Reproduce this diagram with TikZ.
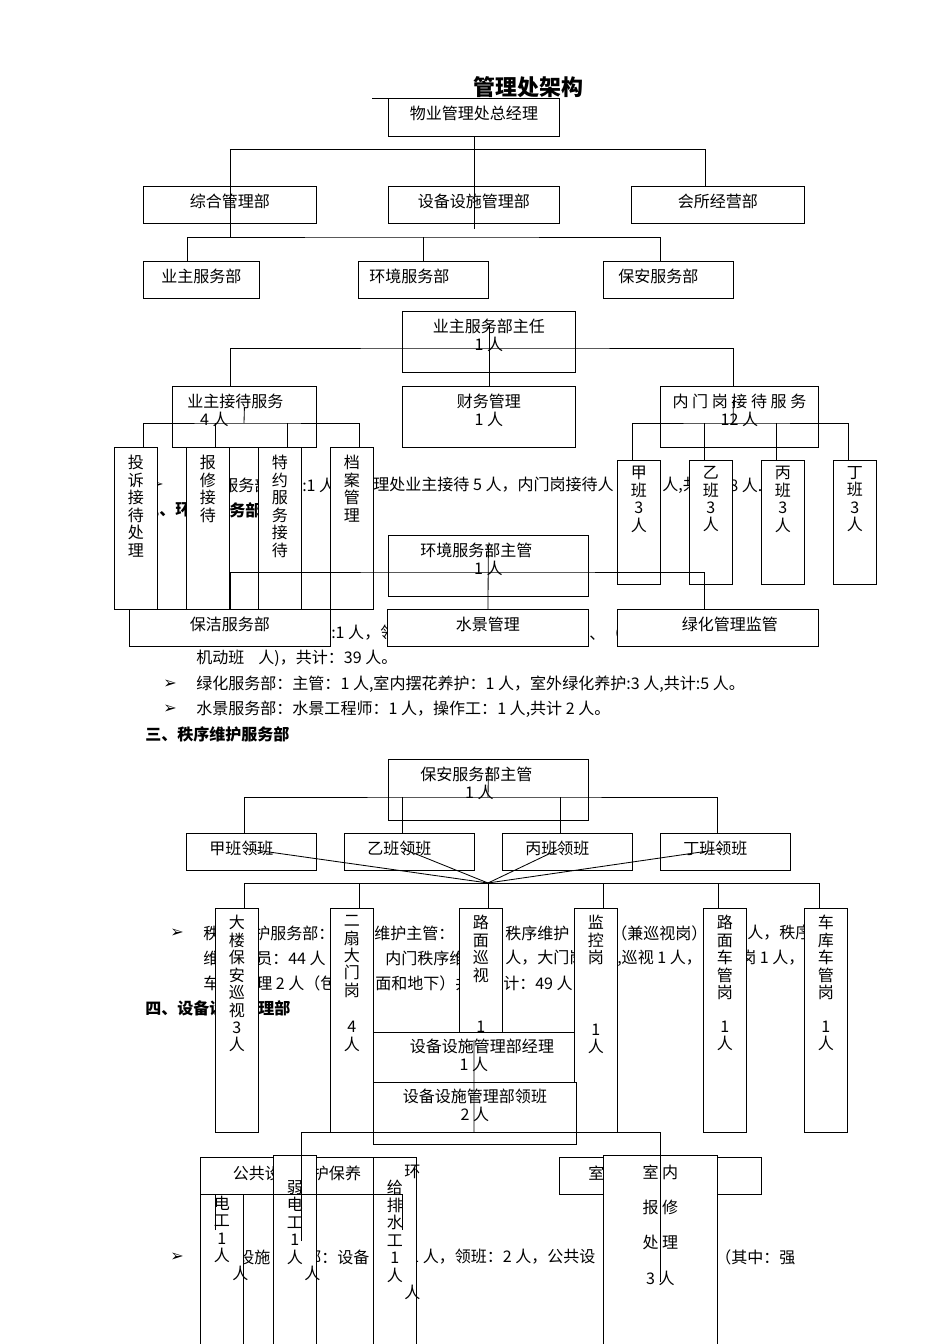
\documentclass[tikz,border=0pt]{standalone}
\usepackage{fontspec}
\setmainfont{Noto Sans CJK SC}
\newfontfamily\arrowfont{DejaVu Sans}
\usetikzlibrary{positioning,calc}
\newdimen\pxu \pxu=0.25mm
\newcommand{\bodyfont}{\fontsize{11.4pt}{12.4pt}\selectfont}
\newcommand{\boxtext}[4][8]{\parbox[t][#3\pxu][t]{#2\pxu}{\centering\vspace*{#1\pxu}#4}}
\tikzset{
    box/.style={
        draw,
        fill=white,
        line width=0.6pt,
        inner sep=0pt,
        anchor=north west,
        font=\bodyfont
    },
    frag/.style={
        anchor=west,
        inner sep=0pt,
        font=\bodyfont
    },
    head/.style={
        frag,
        font=\bodyfont\bfseries
    },
    link/.style={
        line width=0.6pt
    }
}

\begin{document}
\begin{tikzpicture}[x=0.25mm, y=-0.25mm]
    \path[use as bounding box, fill=white] (0,0) rectangle (950,1344);

    \node[inner sep=0pt, anchor=west, font=\fontsize{15.6pt}{16pt}\selectfont\bfseries] (title) at (473,87) {管理处架构};
    \draw[link] (title.base west) ++(0,3) -- ++(-101,0);

    % body text behind the charts
    \node[frag] (fa0) at (150,485) {\arrowfont ➢};
    \node[frag] (fa1) at (222,485) {服务部};
    \node[frag] (fa2) at (302,485) {:1 人};
    \node[frag] (fa3) at (373,485) {理处业主接待 5 人，内门岗接待人};
    \node[frag] (fa4) at (662,485) {人,共};
    \node[frag] (fa5) at (729,485) {8 人.};
    \node[head] (fb1) at (143,510) {二、环};
    \node[head] (fb2) at (229,510) {务部};
    \node[frag] (fc1) at (331,633) {:1 人，领};
    \node[frag] (fc2) at (589,633) {、（其};
    \node[frag] (fd) at (196,658) {机动班\hspace{14\pxu}人)，共计：39 人。};
    \node[frag] (fe0) at (163,684) {\arrowfont ➢};
    \node[frag] (fe) at (196,684) {绿化服务部：主管：1 人,室内摆花养护：1 人，室外绿化养护:3 人,共计:5 人。};
    \node[frag] (ff0) at (163,709) {\arrowfont ➢};
    \node[frag] (ff) at (196,709) {水景服务部：水景工程师：1 人，操作工：1 人,共计 2 人。};
    \node[head] (fg) at (145,734) {三、秩序维护服务部};
    \node[frag] (fh0) at (170,933) {\arrowfont ➢};
    \node[frag] (fh1) at (203,933) {秩};
    \node[frag] (fh2) at (254,933) {护服务部：};
    \node[frag] (fh3) at (374,933) {维护主管：};
    \node[frag] (fh4) at (505,933) {秩序维护};
    \node[frag] (fh5) at (611,933) {（兼巡视岗）};
    \node[frag] (fh6) at (747,933) {人，秩序};
    \node[frag] (fi1) at (203,958) {维};
    \node[frag] (fi2) at (256,958) {员：44 人（};
    \node[frag] (fi3) at (385,958) {内门秩序维};
    \node[frag] (fi4) at (505,958) {人，大门岗};
    \node[frag] (fi5) at (617,958) {,巡视 1 人，};
    \node[frag] (fi6) at (740,958) {岗 1 人，};
    \node[frag] (fj1) at (203,983) {车};
    \node[frag] (fj2) at (256,983) {理 2 人（包};
    \node[frag] (fj3) at (375,983) {面和地下）共};
    \node[frag] (fj4) at (503,983) {计：49 人};
    \node[head] (fk1) at (145,1008) {四、设备设};
    \node[head] (fk2) at (258,1008) {理部};
    \node[frag] (fl0) at (170,1257) {\arrowfont ➢};
    \node[frag] (fl1) at (238,1257) {设施};
    \node[frag] (fl2) at (305,1257) {部：设备};
    \node[frag] (fl3) at (410,1257) {1 人，领班：2 人，公共设};
    \node[frag] (fl4) at (715,1257) {（其中：强};

    % overall structure
    \node[box] (gm) at (388,98) {\boxtext{171}{38}{物业管理处总经理}};
    \node[box] (zh) at (143,186) {\boxtext{173}{37}{综合管理部}};
    \node[box] (sb) at (388,186) {\boxtext{171}{37}{设备设施管理部}};
    \node[box] (hs) at (631,186) {\boxtext{173}{37}{会所经营部}};
    \node[box] (yz) at (143,261) {\boxtext{116}{37}{业主服务部}};
    \node[box] (hj) at (358,261) {\boxtext{130}{37}{环境服务部\hspace*{28\pxu}}};
    \node[box] (ba) at (603,261) {\boxtext{130}{37}{保安服务部\hspace*{20\pxu}}};

    % owner service
    \node[box] (zr) at (402,311) {\boxtext{173}{61}{业主服务部主任\\1 人}};
    \node[box] (cw) at (402,386) {\boxtext{173}{61}{财务管理\\1 人}};
    \node[box] (jd) at (172,386) {\boxtext{144}{61}{\hspace*{-18\pxu}业主接待服务\\\hspace*{-60\pxu}4 人}};
    \node[box] (nm) at (660,386) {\boxtext{158}{61}{内 门 岗 接 待 服 务\\12 人}};
    \node[box] (ts) at (114,447) {\boxtext{43}{162}{投\\诉\\接\\待\\处\\理}};
    \node[box] (bx) at (186,447) {\boxtext{43}{162}{报\\修\\接\\待}};
    \node[box] (ty) at (258,447) {\boxtext{43}{162}{特\\约\\服\\务\\接\\待}};
    \node[box] (da) at (330,447) {\boxtext{43}{162}{档\\案\\管\\理}};
    \node[box] (ja) at (617,460) {\boxtext[6]{43}{124}{甲\\班\\3\\人}};
    \node[box] (yi) at (689,460) {\boxtext[6]{43}{124}{乙\\班\\3\\人}};
    \node[box] (bi) at (761,460) {\boxtext[6]{43}{124}{丙\\班\\3\\人}};
    \node[box] (di) at (833,460) {\boxtext[6]{43}{124}{丁\\班\\3\\人}};

    % environment
    \node[box] (hz) at (388,535) {\boxtext{200}{61}{\hspace*{-24\pxu}环境服务部主管\\1 人}};
    \node[box] (bj) at (129,609) {\boxtext{201}{37}{保洁服务部}};
    \node[box] (sj) at (387,609) {\boxtext{201}{37}{水景管理}};
    \node[box] (lh) at (617,609) {\boxtext{201}{37}{\hspace*{24\pxu}绿化管理监管}};

    % security
    \node[box] (bz) at (388,759) {\boxtext{200}{61}{\hspace*{-24\pxu}保安服务部主管\\\hspace*{-18\pxu}1 人}};
    \node[box] (ljA) at (186,833) {\boxtext{130}{37}{\hspace*{-20\pxu}甲班领班}};
    \node[box] (ljB) at (344,833) {\boxtext{130}{37}{\hspace*{-20\pxu}乙班领班}};
    \node[box] (ljC) at (502,833) {\boxtext{130}{37}{\hspace*{-20\pxu}丙班领班}};
    \node[box] (ljD) at (660,833) {\boxtext{130}{37}{\hspace*{-20\pxu}丁班领班}};
    \node[box] (dl) at (215,908) {\boxtext[7]{43}{224}{大\\楼\\保\\安\\巡\\视\\3\\人}};
    \node[box] (em) at (330,908) {\boxtext[7]{43}{224}{二\\扇\\大\\门\\岗\\[19\pxu]4\\人}};
    \node[box] (lm) at (459,908) {\boxtext[7]{43}{224}{路\\面\\巡\\视\\[34\pxu]1}};
    \node[box] (jk) at (574,908) {\boxtext[7]{43}{224}{监\\控\\岗\\[54\pxu]1\\人}};
    \node[box] (lc) at (703,908) {\boxtext[7]{43}{224}{路\\面\\车\\管\\岗\\[16\pxu]1\\人}};
    \node[box] (ck) at (804,908) {\boxtext[7]{43}{224}{车\\库\\车\\管\\岗\\[16\pxu]1\\人}};

    % equipment
    \node[box] (jl) at (373,1032) {\boxtext[7]{201}{50}{\hspace*{16\pxu}设备设施管理部经理\\1 人}};
    \node[box] (lb) at (373,1082) {\boxtext[7]{203}{62}{设备设施管理部领班\\2 人}};
    \node[box] (qd) at (200,1172) {\boxtext[7]{43}{172}{强\\电\\工\\1\\人}};
    \node[box] (gg) at (200,1157) {\boxtext{216}{37}{公共设施维护保养\hspace*{23\pxu}}};
    \node[box] (rd) at (273,1155) {\boxtext[25]{43}{189}{弱\\电\\工\\1\\人}};
    \node[box] (gp) at (373,1157) {\boxtext[23]{43}{187}{给\\排\\水\\工\\1\\人}};
    \node[box] (sw) at (559,1157) {\boxtext{202}{37}{\hspace*{-128\pxu}室}};
    \node[box] (sn) at (603,1155) {\boxtext[9]{114}{189}{室 内\\[18\pxu]报 修\\[18\pxu]处 理\\[18\pxu]3 人}};
    \node[frag] (fm1) at (232,1273) {人};
    \node[frag] (fm2) at (304,1273) {人};
    \node[frag] (fm3) at (404,1292) {人};
    \node[frag] (fm4) at (404,1172) {环};

    % links
    \coordinate (b1) at (473,149);
    \coordinate (b2) at (420,237);
    \draw[link] (gm.south) -- ([yshift=-5\pxu]sb.south);
    \draw[link] (zh.north |- b1) -| ([xshift=-13\pxu]hs.north);
    \draw[link] (zh.north |- b1) -- (zh.north |- b2);
    \draw[link] ([xshift=-14\pxu]yz.north) |- (b2) -| ([xshift=-8\pxu]ba.north);
    \draw[link] (hj.north |- b2) -- (hj.north);

    \coordinate (b3) at (488,348);
    \coordinate (b4) at (244,423);
    \coordinate (b5) at (733,423);
    \draw[link] ([yshift=-14\pxu]zr.north) -- (cw.north);
    \draw[link] ([xshift=-14\pxu]jd.north) |- (b3) -| ([xshift=-6\pxu]nm.north);
    \draw[link] ([yshift=-21\pxu]jd.north) -- (b4);
    \draw[link] ([xshift=7\pxu]ts.north) |- (b4) -| ([xshift=7\pxu]da.north);
    \foreach \n in {bx,ty}
        \draw[link] ([xshift=7\pxu]\n.north) -- ++(0,-24);
    \draw[link] ([shift={(-6,14)}]nm.north) -- (b5);
    \draw[link] ([xshift=-7\pxu]ja.north) |- (b5) -| ([xshift=-7\pxu]di.north);
    \foreach \n in {yi,bi}
        \draw[link] ([xshift=-7\pxu]\n.north) -- ++(0,-37);

    \coordinate (b6) at (488,572);
    \draw[link] ([yshift=-10\pxu]hz.north) -- (sj.north);
    \draw[link] (bj.north) |- (b6) -| ([xshift=-14\pxu]lh.north);

    \coordinate (b7) at (488,797);
    \coordinate (hub) at (488,883);
    \draw[link] ([yshift=-8\pxu]bz.north) -- (b7);
    \draw[link] ([xshift=-7\pxu]ljA.north) |- (b7) -| ([xshift=-8\pxu]ljD.north);
    \foreach \n in {ljB,ljC}
        \draw[link] ([xshift=-7\pxu]\n.north) -- ++(0,-36);
    \foreach \n/\dx in {ljA/-4, ljB/-6, ljC/-8, ljD/-3}
        \draw[link] ([shift={(\dx,-3)}]\n.center) -- (hub);
    \draw[link] ([xshift=7\pxu]dl.north) |- (hub) -| ([xshift=-7\pxu]ck.north);
    \foreach \n/\dx in {em/7, lm/7, jk/7, lc/-7}
        \draw[link] ([xshift=\dx\pxu]\n.north) -- ++(0,-25);

    \coordinate (b8) at (474,1132);
    \coordinate (b9) at (301,1194);
    \draw[link] ([yshift=-8\pxu]jl.north) -- (b8);
    \draw[link] ([shift={(6.5,86)}]rd.north) |- (b8) -| ([yshift=-127\pxu]sn.north);
    \draw[link] ([shift={(-6.5,58)}]qd.north) |- (b9) -| ([shift={(7.5,73)}]gp.north);
\end{tikzpicture}
\end{document}
